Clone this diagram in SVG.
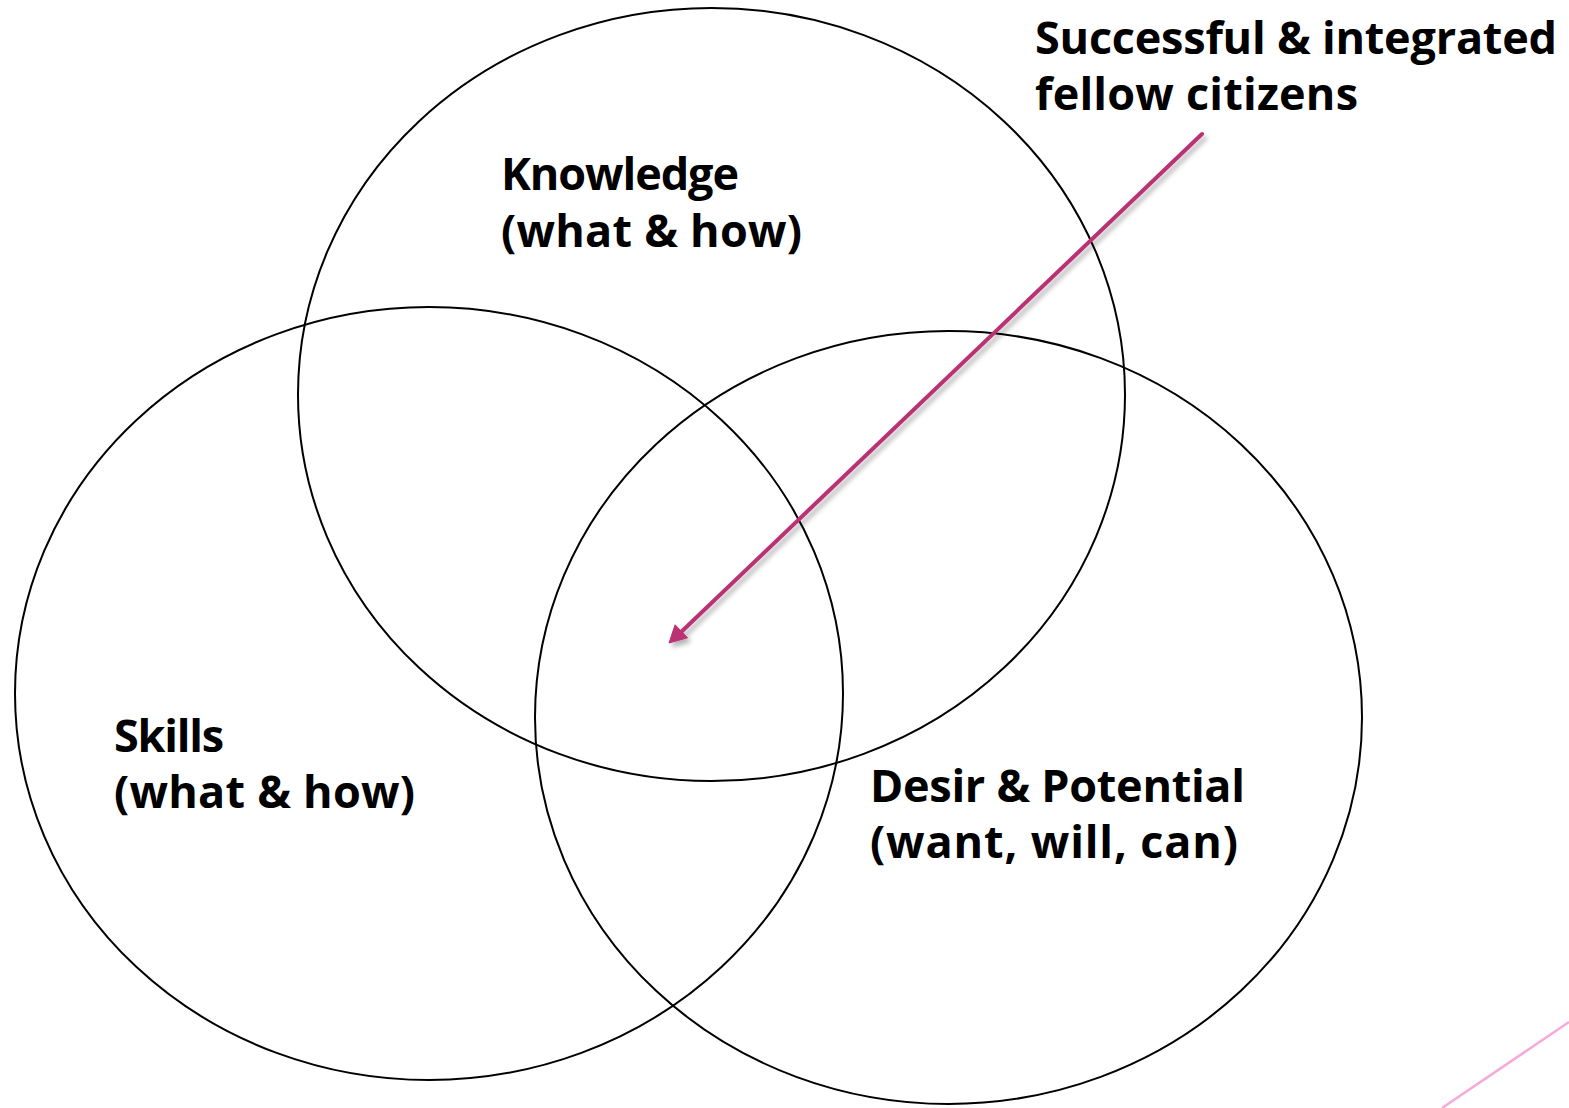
<svg xmlns="http://www.w3.org/2000/svg" width="1569" height="1108" viewBox="0 0 1569 1108">
<style>
.c{fill:none;stroke:#000;stroke-width:2}
.t{font-family:"Open Sans","DejaVu Sans",sans-serif;font-weight:bold;font-size:45px;fill:#000}
.a{stroke:#BA3373;stroke-width:4;fill:#BA3373}
</style>
<defs>
<filter id="sh" x="-10%" y="-10%" width="130%" height="130%">
<feGaussianBlur in="SourceAlpha" stdDeviation="2.5"/>
<feOffset dx="3" dy="4" result="b"/>
<feComponentTransfer><feFuncA type="linear" slope="0.3"/></feComponentTransfer>
<feMerge><feMergeNode/><feMergeNode in="SourceGraphic"/></feMerge>
</filter>
</defs>
<rect width="1569" height="1108" fill="#fff"/>
<line x1="1442" y1="1108" x2="1569" y2="1022" stroke="#F5AADB" stroke-width="2.5"/>
<g id="knowledge">
<ellipse class="c" cx="711.5" cy="394.5" rx="413.5" ry="386.5"/>
<text class="t" x="501" y="190" textLength="238">Knowledge</text>
<text class="t" x="501" y="247" textLength="301">(what &amp; how)</text>
</g>
<g id="skills">
<ellipse class="c" cx="429" cy="693.5" rx="414" ry="386.5"/>
<text class="t" x="114" y="752" textLength="110">Skills</text>
<text class="t" x="114" y="808" textLength="301">(what &amp; how)</text>
</g>
<g id="desire">
<ellipse class="c" cx="948.5" cy="717.5" rx="413.5" ry="386.5"/>
<text class="t" x="870" y="802" textLength="375">Desir &amp; Potential</text>
<text class="t" x="870" y="858" textLength="368">(want, will, can)</text>
</g>
<g id="result">
<text class="t" x="1035" y="54" textLength="522">Successful &amp; integrated</text>
<text class="t" x="1035" y="110" textLength="323">fellow citizens</text>
</g>
<g id="connectors" filter="url(#sh)">
<line class="a" x1="1202" y1="134" x2="678" y2="635" stroke-linecap="round"/>
<path d="M669,643 L687.5,637.8 L675.1,624.8 Z" fill="#BA3373" stroke="#BA3373" stroke-width="1" stroke-linejoin="miter"/>
</g>
</svg>
